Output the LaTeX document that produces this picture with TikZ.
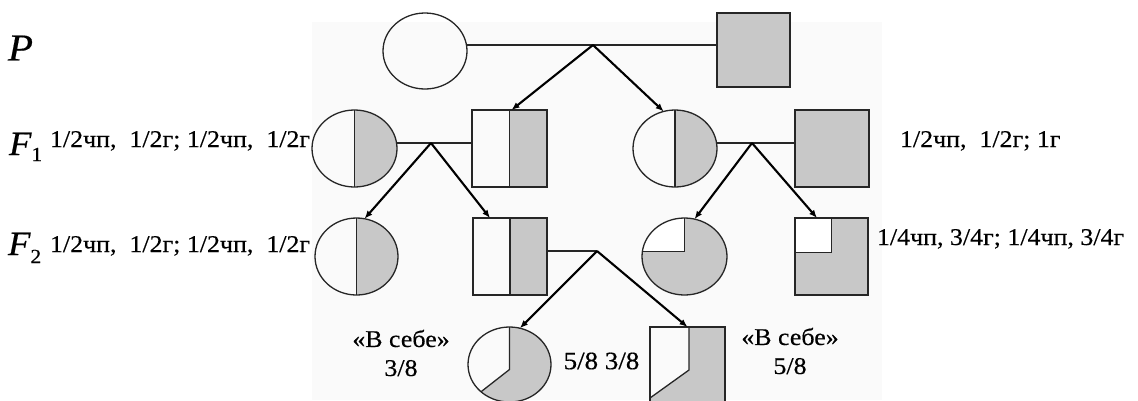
\documentclass[tikz,border=0pt]{standalone}
\usepackage{fontspec}
\setmainfont{Liberation Serif}
\newfontfamily\labfont[FakeStretch=1.08,FakeBold=0.4]{Liberation Serif}
\usetikzlibrary{shapes.geometric,arrows.meta,calc}
\definecolor{shd}{RGB}{200,200,200}
\begin{document}
\begin{tikzpicture}[x=1pt,y=-1pt,
  shp/.style={draw=black!85, line width=1.3pt, inner sep=0pt, outer sep=0pt},
  fem/.style={shp, ellipse, minimum width=84pt, minimum height=77pt},
  mal/.style={shp, rectangle, minimum width=74pt, minimum height=77pt},
  halfshade/.style={path picture={
      \fill[shd] (path picture bounding box.north) rectangle (path picture bounding box.south east);
      \draw[line width=1.3pt,black!85] (path picture bounding box.north) -- (path picture bounding box.south);}},
  quarterwhite/.style={fill=shd, path picture={
      \fill[white] (path picture bounding box.north west) rectangle ([yshift=5pt]path picture bounding box.center);
      \draw[line width=1.3pt,black!85] (path picture bounding box.north) -- ([yshift=5pt]path picture bounding box.center) -- ([yshift=5pt]path picture bounding box.center -| path picture bounding box.west);}},
  mate/.style={line width=1.3pt, black!85},
  arr/.style={line width=2.1pt, -{Latex[length=8pt,width=6.5pt]}},
  txt/.style={inner sep=0pt, outer sep=0pt, font=\labfont\fontsize{24}{28}\selectfont},
  gen/.style={inner sep=0pt, outer sep=0pt, font=\labfont\itshape\fontsize{34}{36}\selectfont}
]
\useasboundingbox (0,0) rectangle (1138,400);
\fill[black!2] (312,22) rectangle (882,400);

% P generation
\node[fem, minimum width=84pt, minimum height=76pt] (pf) at (425,51) {};
\node[mal, fill=shd, minimum width=73pt, minimum height=74pt] (pm) at (753.5,50) {};
\coordinate (a0) at (593,45);
\draw[mate] (a0 -| pf.east) -- (a0 -| pm.west);

% F1 generation
\node[fem, minimum width=85pt, halfshade] (f1a) at (354.5,148.5) {};
\node[mal, minimum width=75pt, halfshade] (f1b) at (509.5,148.5) {};
\node[fem, halfshade] (f1c) at (675,148.5) {};
\node[mal, fill=shd] (f1d) at (832,148.5) {};
\coordinate (a1) at (431,143);
\coordinate (a2) at (752,143);
\draw[mate] (a1 -| f1a.east) -- (a1 -| f1b.west);
\draw[mate] (a2 -| f1c.east) -- (a2 -| f1d.west);
\draw[arr] (a0) -- ([xshift=2pt]f1b.north);
\draw[arr] (a0) -- (f1c.107);

% F2 generation
\node[fem, minimum width=83pt, halfshade] (f2a) at (356.5,256.5) {};
\node[mal, halfshade] (f2b) at (510,256.5) {};
\node[fem, minimum width=85pt, quarterwhite] (f2c) at (684.5,256.5) {};
\node[mal, minimum width=73pt, fill=shd, path picture={
   \fill[white] (path picture bounding box.north west) rectangle ([yshift=4pt]path picture bounding box.center);
   \draw[line width=1.3pt,black!85] (path picture bounding box.north) -- ([yshift=4pt]path picture bounding box.center) -- ([yshift=4pt]path picture bounding box.center -| path picture bounding box.west);}] (f2d) at (831.5,256.5) {};
\coordinate (a3) at (597,251);
\draw[mate] (a3 -| f2b.east) -- (a3);
\draw[arr] (a1) -- (f2a.78);
\draw[arr] (a1) -- ([xshift=-20pt]f2b.north);
\draw[arr] (a2) -- (f2c.75);
\draw[arr] (a2) -- ([xshift=-14.5pt]f2d.north);

% F3 generation
\node[fem, minimum width=83pt, minimum height=75pt, path picture={
   \fill[shd] (path picture bounding box.north) -- ([yshift=-5pt]path picture bounding box.center) -- ($(path picture bounding box.center)+(-32,30)$) -- (path picture bounding box.south west) -- (path picture bounding box.south east) -- (path picture bounding box.north east) -- cycle;
   \draw[line width=1.3pt,black!85] (path picture bounding box.north) -- ([yshift=-5pt]path picture bounding box.center) -- ($(path picture bounding box.center)+(-32,30)$);}] (f3a) at (509.5,364.5) {};
\node[mal, minimum width=75pt, minimum height=75pt, path picture={
   \fill[shd] ([xshift=1.5pt]path picture bounding box.north) -- ([xshift=1.5pt,yshift=-5.5pt]path picture bounding box.center) -- ($(path picture bounding box.west)+(0,33.5)$) -- (path picture bounding box.south west) -- (path picture bounding box.south east) -- (path picture bounding box.north east) -- cycle;
   \draw[line width=1.3pt,black!85] ([xshift=1.5pt]path picture bounding box.north) -- ([xshift=1.5pt,yshift=-5.5pt]path picture bounding box.center) -- ($(path picture bounding box.west)+(0,33.5)$);}] (f3b) at (687.5,364.5) {};
\draw[arr] (a3) -- (f3a.74);
\draw[arr] (a3) -- (f3b.north);

% labels
\node[gen, anchor=west, font=\labfont\itshape\fontsize{38}{40}\selectfont] (gP) at (8,48) {P};
\node[gen, anchor=base west] (gF1) at (9,155) {F\raisebox{-6pt}{\upshape\fontsize{20}{20}\selectfont 1}};
\node[gen, anchor=base west] (gF2) at (8,255) {F\raisebox{-8pt}{\upshape\fontsize{20}{20}\selectfont 2}};

\node[txt, anchor=base west] (t1l) at (50,147) {1/2чп,\ \ 1/2г;\ 1/2чп,\ \ 1/2г};
\node[txt, anchor=base west] (t1r) at (900,147) {1/2чп,\ \ 1/2г;\ 1г};
\node[txt, anchor=base west] (t2l) at (50,252) {1/2чп,\ \ 1/2г;\ 1/2чп,\ \ 1/2г};
\node[txt, anchor=base west] (t2r) at (877,245) {1/4чп,\ 3/4г;\ 1/4чп,\ 3/4г};

\node[txt, align=center, font=\labfont\fontsize{24}{29}\selectfont] (t3a) at (401,353) {«В себе»\\3/8};
\node[txt, font=\labfont\fontsize{25}{28}\selectfont] (t3m) at (601.5,361) {5/8 3/8};
\node[txt, align=center, font=\labfont\fontsize{24}{29}\selectfont] (t3b) at (790,351) {«В себе»\\5/8};
\end{tikzpicture}
\end{document}
